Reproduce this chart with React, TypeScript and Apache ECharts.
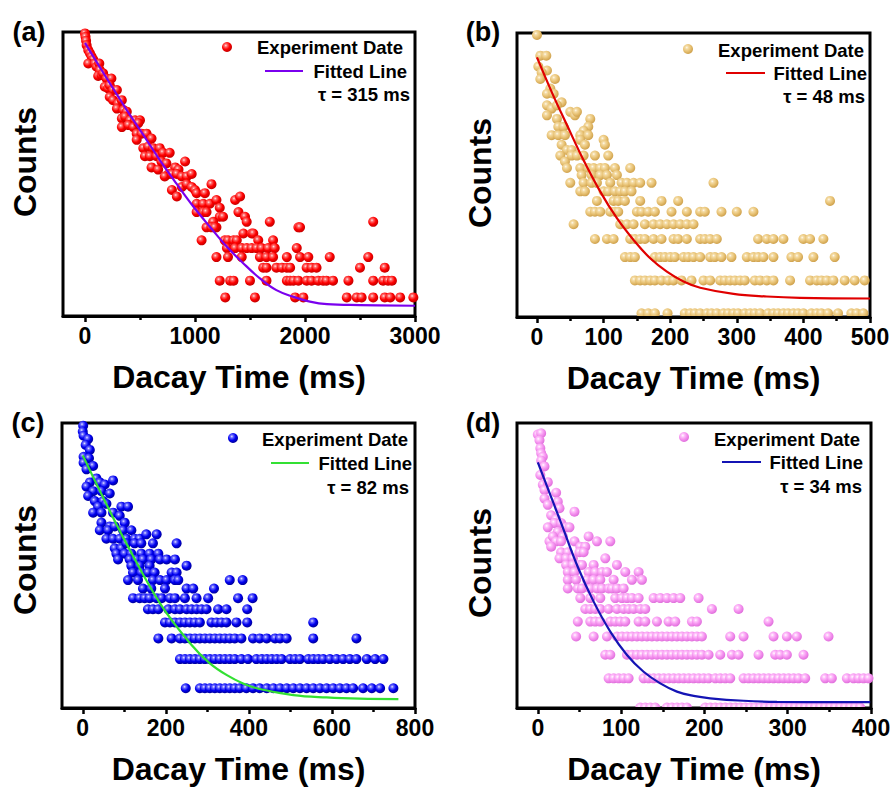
import React, { useEffect, useRef } from "react";
import * as echarts from "echarts";

const FONT = "'Liberation Sans', Arial, Helvetica, sans-serif";

// ---------- Panel (a) ----------
const xMajorA = [0, 1000, 2000, 3000];
const xMinorA = [500, 1500, 2500];
const ptsA = [[0,280],[5,264],[10,247],[15,229],[30,210],[45,199],[60,188],[75,179],[30,167],[90,167],[105,158],[130,167],[135,149],[120,135],[150,137],[165,141],[195,129],[240,129],[180,112],[210,109],[225,115],[255,106],[290,106],[225,94],[255,89],[300,84],[335,89],[290,77],[350,75],[380,73],[335,65],[365,67],[410,63],[455,63],[500,63],[335,56],[395,58],[440,56],[485,60],[470,50],[515,50],[560,50],[605,46],[470,45],[530,39],[575,40],[620,39],[680,39],[545,34],[590,34],[650,34],[710,36],[770,36],[605,28],[665,27],[695,31],[740,30],[760,25],[820,28],[850,27],[910,31],[725,24],[790,25],[835,25],[880,24],[925,24],[970,25],[790,19],[835,17],[880,20],[925,21],[970,20],[1000,19],[1015,18],[1090,18],[1150,21],[1015,15],[1075,15],[1135,15],[1195,16],[1225,14],[1015,13],[1075,13],[1105,13],[1225,12],[1255,12],[1365,16],[1410,17],[1395,13],[1455,12],[1470,11],[1165,11],[1195,10],[1105,10],[1150,10],[1180,10],[1440,9],[1515,9],[1530,9],[1680,11],[1940,10],[1955,10],[2620,11]];
const rowA8 = [1060,1270,1300,1350,1380,1575,1710];
const rowA7 = [1290,1365,1425,1470,1515,1560,1605,1665,1725,1925];
const rowA6 = [1195,1300,1425,1590,1650,1710,1835,1955,2030,2225,2575];
const rowA5 = [1620,1650,1740,1790,1835,1865,2015,2060,2105,2500,2725];
const rowA4 = [1225,1320,1350,1500,1650,1835,1865,1895,1940,2015,2060,2120,2165,2195,2255,2395,2620,2710,2755,2790];
const rowA3 = [1275,1545,1910,1985,2380,2470,2515,2620,2725,2775,2865,2985];
const fitAt = [0,165,380,530,680,830,985,1135,1290,1440,1590,1740,1895,2045,2200,2500,3000];
const fitAy = [238,143,75,49,31.8,21.3,14.3,10.1,7.16,5.38,4.16,3.4,3.03,2.79,2.67,2.63,2.6];

// ---------- Panel (b) ----------
const xMajorB = [0, 100, 200, 300, 400, 500];
const xMinorB = [50, 150, 250, 350, 450];
const ptsB = [[0,62],[5,48],[14,48],[2,42],[15,40],[7,39],[5,36],[27,36],[20,32],[15,30],[25,30],[37,27],[15,26],[22,25],[15,23],[30,26],[50,24],[57,23],[60,24],[30,22],[32,20],[40,20],[22,18],[32,18],[42,18],[80,22],[77,20],[70,19],[65,18],[77,18],[37,16],[45,15],[65,17],[72,16],[52,15],[100,17],[102,16],[35,14],[42,13],[45,12],[52,14],[60,14],[70,14],[87,14],[107,14],[65,12],[77,12],[85,12],[95,12],[102,12],[117,12],[140,12],[67,11],[82,11],[95,11],[105,11],[120,11]];
const rowB10 = [50,70,82,90,110,127,135,145,155,172,265];
const rowB9 = [65,72,100,107,117,125,132,142];
const rowB8 = [90,115,122,132,155,187,212,440];
const rowB7 = [80,87,95,110,117,122,150,157,167,177,202,225,245,252,277,300,325];
const rowB6 = [55,125,135,145,162,175,185,195,205,215,225,235];
const rowB5 = [87,105,115,140,147,155,162,175,187,205,212,225,245,252,260,270,332,345,355,370,400,410,430];
const rowB4 = [132,140,147,177,185,192,200,207,220,227,235,245,260,267,277,292,315,325,332,340,355,382,392,415,447];
const rowB3 = [147,155,162,170,177,187,197,205,217,232,250,260,275,282,290,297,305,312,327,335,345,355,380,410,420,427,435,445,462,477,492];
const rowB2 = [157,167,177,196,222,230,237,245,255,262,270,280,287,295,302,312,320,327,335,347,355,362,370,377,385,392,400,412,420,427,437,452,472,480,490];
const fitBt = [0,24,45,70,95,120,145,170,195,220,245,295,345,395,500];
const fitBy = [47,29.6,20.4,13.2,8.97,6.46,4.94,3.94,3.34,2.96,2.74,2.54,2.46,2.42,2.4];

// ---------- Panel (c) ----------
const xMajorC = [0, 200, 400, 600, 800];
const xMinorC = [100, 300, 500, 700];
const ptsC = [[1,77],[0,71],[2,67],[13,64],[7,59],[17,55],[2,50],[15,49],[2,46],[25,44],[9,42],[33,37],[17,35],[41,35],[53,34],[73,36],[9,33],[25,31],[45,31],[65,30],[13,29],[29,27],[49,27],[37,25],[57,26],[25,23],[45,23],[73,23],[93,25],[109,25],[89,22],[101,20],[45,20],[65,19],[41,18],[61,18],[77,19],[97,18],[117,18],[57,16],[73,16],[89,16],[105,16],[125,16],[137,16],[153,17],[178,17],[77,14],[93,14],[105,15],[125,15],[141,15],[169,15],[226,15],[81,13],[101,13],[117,13],[141,13],[161,13],[182,13],[85,12],[113,12],[129,12],[145,12],[165,12],[186,12],[202,12],[222,12],[117,11],[137,11],[161,11],[250,11]];
const rowC10 = [121,141,157,173,214,226];
const rowC9 = [109,133,169,186,202,222,230,354,385];
const rowC8 = [145,165,198,250,266,316];
const rowC7 = [121,137,149,161,178,190,210,222,246,274,302,374,409];
const rowC6 = [157,169,182,206,222,234,250,262,274,286,298,326,346,396];
const rowC5 = [198,210,222,234,246,258,270,282,310,322,334,346,370,396,555];
const rowC4 = [182,214,234,246,258,270,282,294,306,318,330,342,354,366,382,410,426,443,463,475,491,555,659];
const rowC3 = [234,246,258,270,282,294,306,318,330,342,354,366,382,398,418,431,443,455,467,479,499,511,523,543,555,567,579,595,611,627,643,659,684,704,724];
const rowC2 = [248,282,294,306,318,330,342,354,366,378,394,410,426,443,459,475,491,507,523,539,555,571,587,603,619,635,651,675,696,716,748];
const fitCt = [0,49,105,186,262,306,346,386,426,507,587,667,760];
const fitCy = [51,28.4,15.0,6.52,3.65,2.83,2.41,2.14,1.98,1.82,1.76,1.73,1.72];

// ---------- Panel (d) ----------
const xMajorD = [0, 100, 200, 300, 400];
const xMinorD = [50, 150, 250, 350];
const ptsD = [[0,59],[4,60],[2,55],[3,50],[4,47],[6,45],[4,43],[8,40],[3,36],[6,32],[12,33],[8,30],[22,29],[8,27],[12,25],[24,26],[26,24],[16,22],[22,21],[44,23],[20,20],[28,20],[34,19],[38,19],[12,19],[24,18],[30,17],[14,16],[18,17],[22,16],[28,16],[16,15],[44,16],[51,15],[57,15],[61,17],[71,16],[87,16],[28,14],[36,14],[26,13],[34,13],[42,13],[50,14],[55,14],[81,13],[34,12],[42,12],[50,12],[53,12],[67,12],[95,12]];
const rowD11 = [36,44,61,69,77,83,105,121];
const rowD10 = [36,46,59,67,75,91,113,125];
const rowD9 = [36,48,53,63,71,77,85,89,95,103];
const rowD8 = [51,63,75,93,101,107,113,121,139,147,155,163,171,193];
const rowD7 = [57,63,69,75,85,95,103,109,115,123,129,209,241];
const rowD6 = [48,63,69,75,87,93,99,105,121,129,143,157,165,185,191,277];
const rowD5 = [46,67,83,95,101,107,113,119,125,131,137,143,149,155,161,167,173,179,185,191,197,231,247,283,299,311,349];
const rowD4 = [81,87,107,113,119,125,131,137,143,149,155,161,167,173,179,185,191,197,205,219,233,241,265,285,291,299,319];
const rowD3 = [85,91,97,103,109,127,133,139,145,151,157,163,169,175,181,187,193,199,205,213,219,225,231,247,253,259,265,271,277,283,289,295,301,307,313,321,345,353,371,379,385,391,397];
const rowD2 = [123,129,135,141,155,161,167,173,179,201,207,213,219,225,231,237,243,249,255,261,267,273,279,285,291,297,303,309,315,321,327,333,339,345,351,357,363,369,375,381,387];
const fitDt = [0,28,48,67,87,107,127,147,167,187,207,247,287,399];
const fitDy = [42,20,11.7,7.66,5.31,3.99,3.25,2.82,2.55,2.42,2.35,2.28,2.25,2.24];

type Row = [number, number[]];
function build(pts: number[][], rows: Row[]) {
  const out: number[][] = pts.map((p) => [p[0], p[1]]);
  rows.forEach(([n, ts]) => ts.forEach((t) => out.push([t, n])));
  return out;
}
function pair(t: number[], y: number[]) {
  return t.map((v, i) => [v, y[i]]);
}

const radial = (stops: string[]) => ({
  type: "radial", x: 0.38, y: 0.35, r: 0.65,
  colorStops: [
    { offset: 0, color: stops[0] },
    { offset: 0.22, color: stops[1] },
    { offset: 0.6, color: stops[2] },
    { offset: 1, color: stops[3] },
  ],
});

const panels = [
  {
    label: "(a)", grid: { left: 63, top: 32, width: 352, height: 284 },
    xMin: -200, xMax: 3000, major: xMajorA, minor: xMinorA, yMin: 2.18, yMax: 287,
    scatter: build(ptsA, [[8, rowA8], [7, rowA7], [6, rowA6], [5, rowA5], [4, rowA4], [3, rowA3]]),
    fit: pair(fitAt, fitAy),
    stops: ["#ffe6e6", "#ff6a6a", "#ff0000", "#c40000"], fitColor: "#7a00ee", tau: "τ = 315 ms",
    labelPos: [29, 32], countsPos: [25, 162],
    leg: { marker: [227, 47], text1: [403, 47], line: [265, 303, 71], text2: [407, 71], text3: [410, 94] },
  },
  {
    label: "(b)", grid: { left: 517, top: 33, width: 353, height: 284 },
    xMin: -30, xMax: 500, major: xMajorB, minor: xMinorB, yMin: 1.91, yMax: 63.5,
    scatter: build(ptsB, [[10, rowB10], [9, rowB9], [8, rowB8], [7, rowB7], [6, rowB6], [5, rowB5], [4, rowB4], [3, rowB3], [2, rowB2]]),
    fit: pair(fitBt, fitBy),
    stops: ["#fffaf0", "#f4dca6", "#e8c274", "#cfa24e"], fitColor: "#e00000", tau: "τ = 48 ms",
    labelPos: [483, 32], countsPos: [480, 173],
    leg: { marker: [688, 49], text1: [864, 50], line: [726, 765, 73], text2: [867, 73], text3: [865, 96] },
  },
  {
    label: "(c)", grid: { left: 62, top: 423, width: 353, height: 285 },
    xMin: -50, xMax: 800, major: xMajorC, minor: xMinorC, yMin: 1.52, yMax: 80,
    scatter: build(ptsC, [[10, rowC10], [9, rowC9], [8, rowC8], [7, rowC7], [6, rowC6], [5, rowC5], [4, rowC4], [3, rowC3], [2, rowC2]]),
    fit: pair(fitCt, fitCy),
    stops: ["#e6e6ff", "#6a6aff", "#0000f0", "#00009c"], fitColor: "#33e033", tau: "τ = 82 ms",
    labelPos: [28, 423], countsPos: [25, 560],
    leg: { marker: [233, 438], text1: [408, 439], line: [271, 309, 463], text2: [412, 463], text3: [409, 487] },
  },
  {
    label: "(d)", grid: { left: 517, top: 423, width: 354, height: 285 },
    xMin: -25, xMax: 400, major: xMajorD, minor: xMinorD, yMin: 2.087, yMax: 68,
    scatter: build(ptsD, [[11, rowD11], [10, rowD10], [9, rowD9], [8, rowD8], [7, rowD7], [6, rowD6], [5, rowD5], [4, rowD4], [3, rowD3], [2.1, rowD2]]),
    fit: pair(fitDt, fitDy),
    stops: ["#ffffff", "#ffc6fb", "#f592ef", "#e070dc"], fitColor: "#1414b4", tau: "τ = 34 ms",
    labelPos: [483, 423], countsPos: [480, 563],
    leg: { marker: [684, 437], text1: [860, 439], line: [722, 761, 462], text2: [863, 462], text3: [862, 486] },
  },
];

function txt(text: string, x: number, y: number, size: number, align: string, rotation = 0) {
  return {
    type: "text", x, y, rotation, z: 10,
    style: {
      text, fill: "#000", font: `bold ${size}px ${FONT}`,
      align, textAlign: align, verticalAlign: "middle", textVerticalAlign: "middle",
    },
  };
}

export default function App() {
  const ref = useRef<HTMLDivElement>(null);
  useEffect(() => {
    if (!ref.current) return;
    const chart = echarts.init(ref.current, null, { renderer: "svg" });
    const grid: any[] = [];
    const xAxis: any[] = [];
    const yAxis: any[] = [];
    const series: any[] = [];
    const graphic: any[] = [];
    panels.forEach((p, i) => {
      grid.push({ ...p.grid, show: true, borderColor: "#000", borderWidth: 3, backgroundColor: "transparent", containLabel: false, outerBoundsMode: "none" });
      xAxis.push({
        type: "value", gridIndex: i, min: p.xMin, max: p.xMax, position: "bottom", z: 4,
        axisLine: { show: true, onZero: false, lineStyle: { color: "#000", width: 3 } },
        axisTick: { show: true, inside: false, length: 6, customValues: p.major, lineStyle: { color: "#000", width: 2.5 } },
        axisLabel: {
          show: true, customValues: p.major, margin: 8, color: "#000", fontSize: 23, fontWeight: "bold", fontFamily: FONT,
          formatter: (v: number) => String(v),
        },
        splitLine: { show: false },
        name: "Dacay Time (ms)", nameLocation: "middle", nameGap: 45,
        nameTextStyle: { color: "#000", fontSize: 32, fontWeight: "bold", fontFamily: FONT },
      });
      xAxis.push({
        type: "value", gridIndex: i, min: p.xMin, max: p.xMax, position: "bottom", z: 4,
        axisLine: { show: false, onZero: false },
        axisTick: { show: true, inside: false, length: 4, customValues: p.minor, lineStyle: { color: "#000", width: 2.5 } },
        axisLabel: { show: false }, splitLine: { show: false },
      });
      yAxis.push({
        type: "log", logBase: 10, gridIndex: i, min: p.yMin, max: p.yMax,
        axisLine: { show: false }, axisTick: { show: false }, axisLabel: { show: false },
        splitLine: { show: false }, minorTick: { show: false },
      });
      series.push({
        type: "scatter", xAxisIndex: 2 * i, yAxisIndex: i, data: p.scatter,
        symbol: "circle", symbolSize: 10, silent: true, z: 2,
        itemStyle: { color: radial(p.stops), opacity: 1 },
      });
      series.push({
        type: "line", xAxisIndex: 2 * i, yAxisIndex: i, data: p.fit,
        symbol: "none", showSymbol: false, smooth: 0.4, silent: true, z: 3,
        lineStyle: { color: p.fitColor, width: 2.2 },
      });
      graphic.push(txt(p.label, p.labelPos[0], p.labelPos[1], 27, "center"));
      graphic.push(txt("Counts", p.countsPos[0], p.countsPos[1], 32, "center", Math.PI / 2));
      const L = p.leg;
      graphic.push({
        type: "circle", z: 10, shape: { cx: L.marker[0], cy: L.marker[1], r: 5 },
        style: { fill: radial(p.stops) },
      });
      graphic.push(txt("Experiment Date", L.text1[0], L.text1[1], 18.5, "right"));
      graphic.push({
        type: "line", z: 10, shape: { x1: L.line[0], y1: L.line[2], x2: L.line[1], y2: L.line[2] },
        style: { stroke: p.fitColor, lineWidth: 2.2 },
      });
      graphic.push(txt("Fitted Line", L.text2[0], L.text2[1], 18.5, "right"));
      graphic.push(txt(p.tau, L.text3[0], L.text3[1], 18.5, "right"));
    });
    // mask under the bottom border of panel (d), where the lowest row sits on the frame
    graphic.push({ type: "rect", z: 3, shape: { x: 515, y: 709.6, width: 358, height: 14 }, style: { fill: "#fff" } });

    chart.setOption({
      animation: false,
      backgroundColor: "#fff",
      grid, xAxis, yAxis, series, graphic,
    });
    return () => chart.dispose();
  }, []);
  return (
    <div
      ref={ref}
      style={{ position: "fixed", left: 0, top: 0, width: 894, height: 790, background: "#fff" }}
    />
  );
}
